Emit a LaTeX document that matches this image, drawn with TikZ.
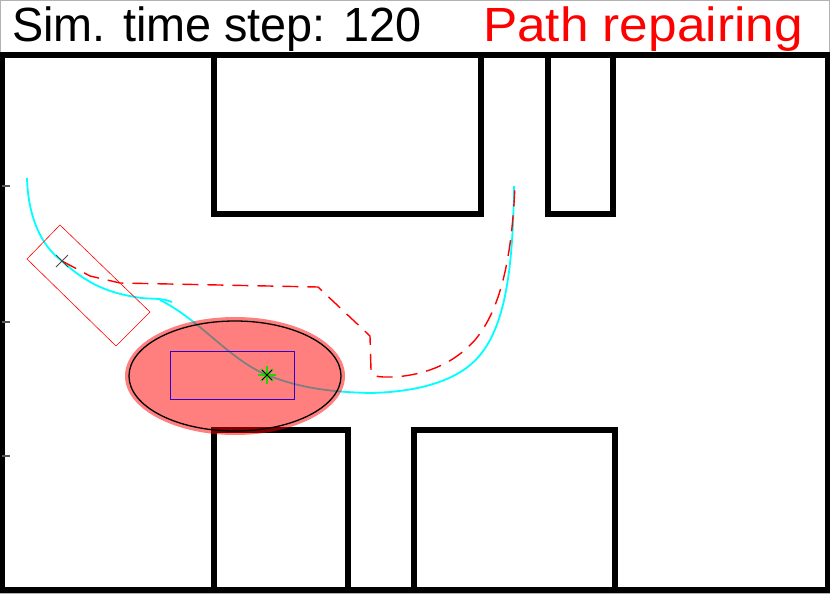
\documentclass[tikz,border=0pt]{standalone}
\usepackage{fontspec}
\setmainfont{Liberation Sans}
\definecolor{cy}{RGB}{0,255,255}
\definecolor{gr}{RGB}{40,210,0}
\begin{document}
\begin{tikzpicture}[x=1pt,y=-1pt,
  wall/.style={line width=5.5pt,line join=miter},
  cyanpath/.style={cy,line width=1.8pt},
  plan/.style={red,line width=1.4pt,dash pattern=on 16pt off 9pt}]
\useasboundingbox (0,0) rectangle (830,594);
\draw[gray!60,line width=1pt] (0.5,0.5) rectangle (829.5,593.5);
% title
\node[anchor=base west,font=\fontsize{48}{48}\selectfont,inner sep=0pt,xscale=0.975] (t1) at (12,42) {Sim. time step: 120};
\node[anchor=base east,font=\fontsize{48}{48}\selectfont,inner sep=0pt,text=red,xscale=1.07] (t2) at (803,42) {Path repairing};
% frame
\draw[wall] (2,55) rectangle (828,590);
\foreach \y in {186,322,456} \draw[line width=1.5pt,gray!70!black] (2,\y) -- (10,\y);
% obstacles
\draw[wall] (214,55) -- (214,214) -- (481,214) -- (481,55);
\draw[wall] (548,55) -- (548,214) -- (613,214) -- (613,55);
\draw[wall] (214,590) -- (214,430) -- (348,430) -- (348,590);
\draw[wall] (414,590) -- (414,430) -- (615,430) -- (615,590);
% cyan path
\draw[cyanpath] (27,178) .. controls (28,215) and (40,245) .. (62,261)
  .. controls (85,282) and (105,292) .. (135,297)
  .. controls (150,300) and (160,297) .. (172,302);
\draw[cyanpath] (160,300) .. controls (200,320) and (230,360) .. (267,375)
  .. controls (300,388) and (330,392) .. (370,393)
  .. controls (420,392) and (460,380) .. (480,355)
  .. controls (505,325) and (513,270) .. (514,186);
% red dashed plan
\draw[plan] (62,261) -- (90,276) -- (120,283) -- (318,287) -- (370,336) -- (371,370)
  .. controls (373,378) and (380,377) .. (395,377)
  .. controls (430,374) and (455,362) .. (475,340)
  .. controls (500,310) and (512,260) .. (515,184);
% robot footprint
\draw[red,line width=0.6pt] (27,259) -- (60,225) -- (150,312) -- (116,346) -- cycle;
\node[inner sep=0pt] (r) at (62,261) {};
\draw[gray!60!black,line width=0.8pt] (56,255) -- (68,267) (56,267) -- (68,255);
% obstacle ellipse
\fill[red,opacity=0.5] (235,376) ellipse [x radius=110, y radius=59];
\draw[black,line width=1.3pt] (235,376) ellipse [x radius=106, y radius=55];
\draw[blue!80!red,line width=0.8pt] (170,351) rectangle (294,399);
\node[inner sep=0pt] (o) at (267,375) {};
\draw[gr,line width=1.6pt] (267,366) -- (267,384) (258,375) -- (276,375) (261,369) -- (273,381) (261,381) -- (273,369);
\draw[black,line width=0.8pt] (262,370) -- (272,380) (262,380) -- (272,370);
\end{tikzpicture}
\end{document}
